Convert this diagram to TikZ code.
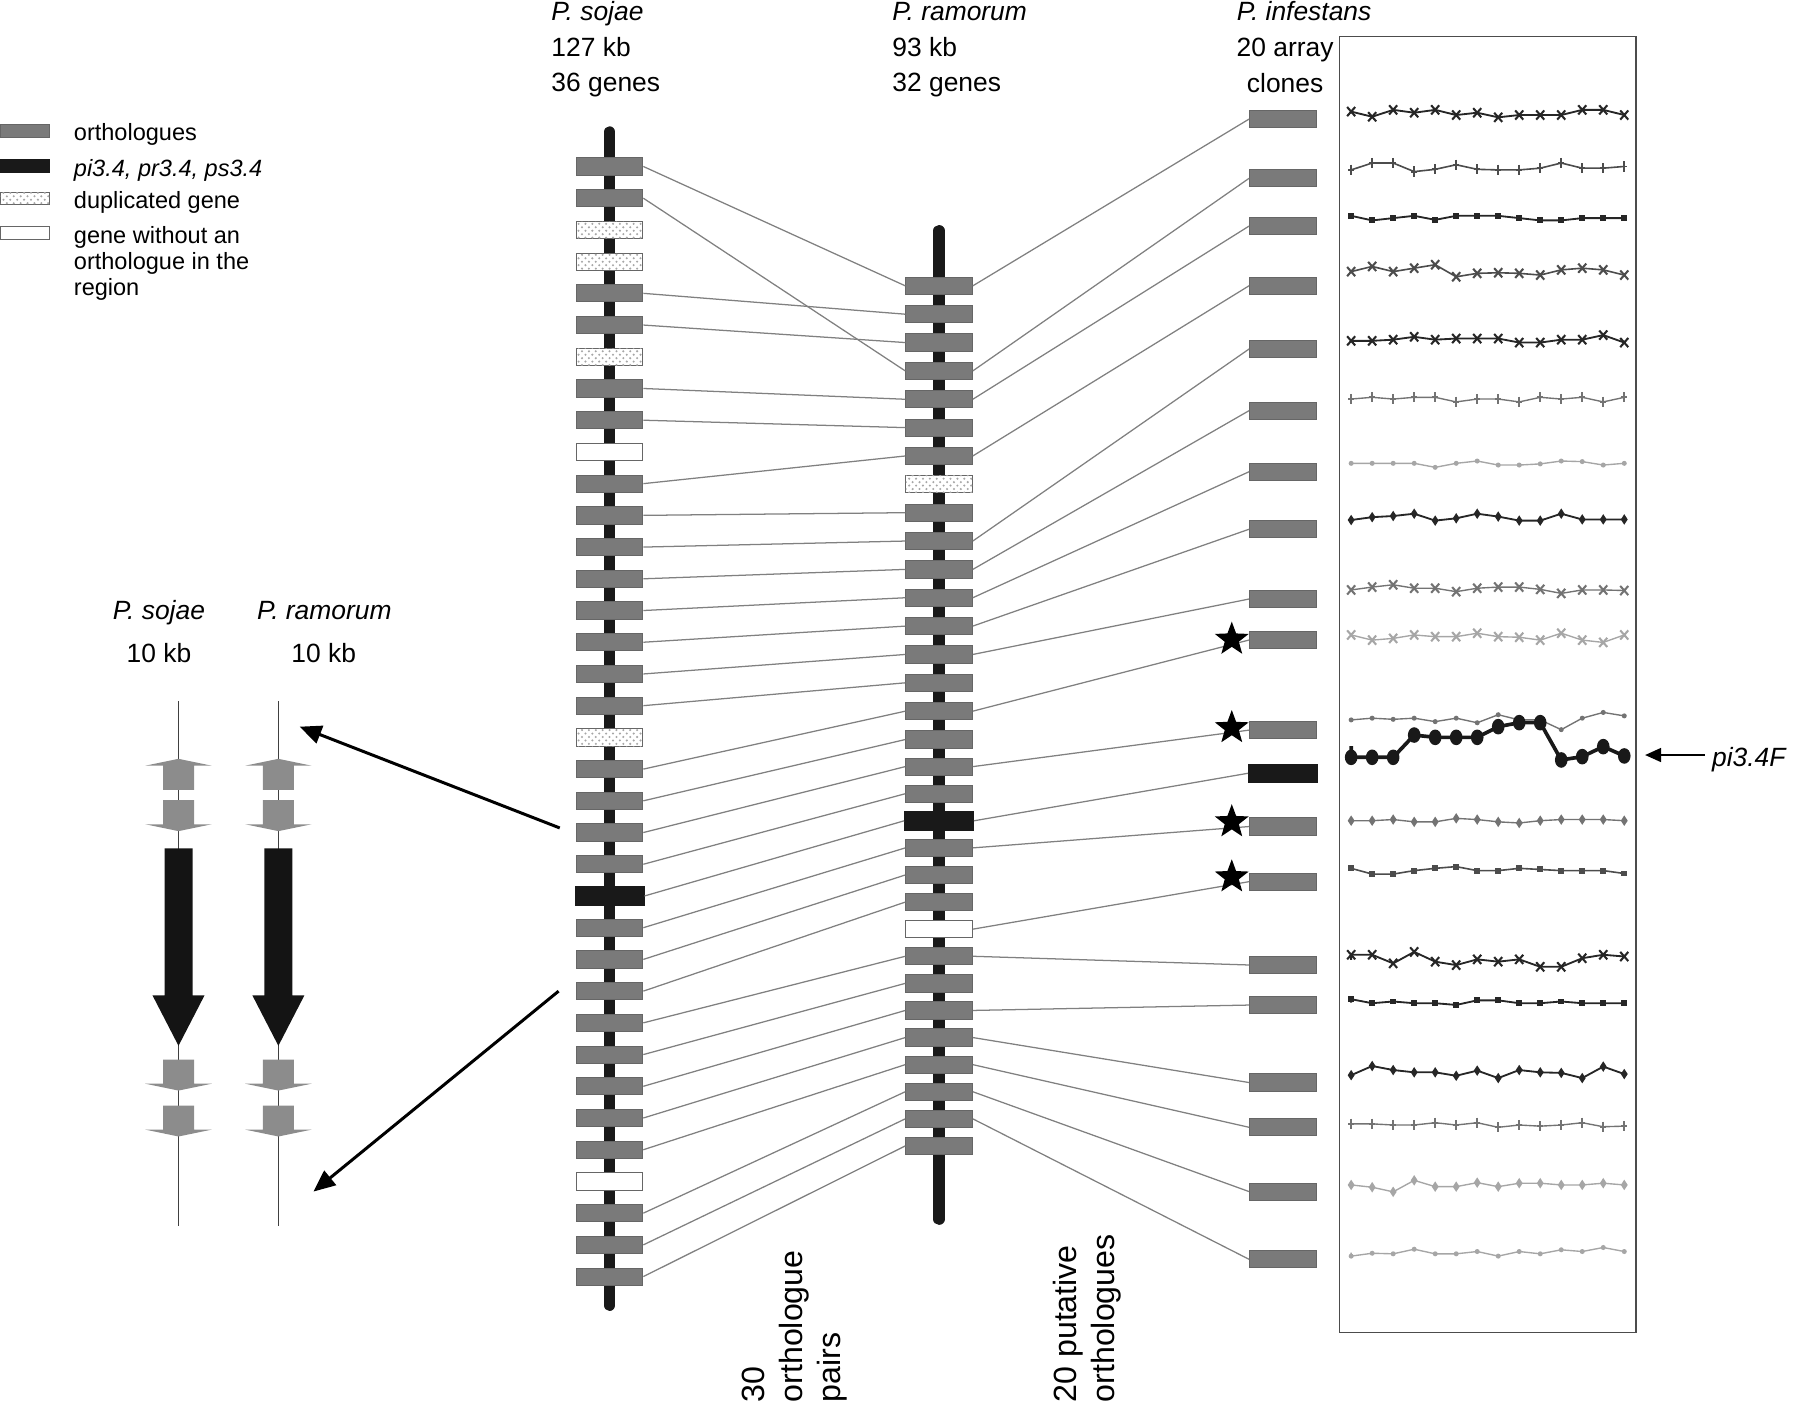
\documentclass[tikz,border=0pt]{standalone}
\usepackage{fontspec}
\setmainfont{Liberation Sans}
\usetikzlibrary{arrows.meta,shapes.geometric,patterns,calc}

\tikzset{
  chrom/.style={line width=5pt, line cap=round, black!90},
  gene/.style={rectangle, inner sep=0pt, minimum width=29pt, minimum height=7.5pt, draw=black!60, line width=0.4pt},
  geneo/.style={gene, fill=black!52},
  geneb/.style={gene, fill=black!90, draw=black!90, minimum width=30pt, minimum height=8pt},
  gened/.style={gene, fill=white, postaction={pattern=crosshatch dots, pattern color=black!35}},
  genew/.style={gene, fill=white},
  legbox/.style={minimum width=21.5pt, minimum height=5.5pt},
  orthlink/.style={black!50, line width=0.55pt},
  zoomarrow/.style={line width=1.3pt, -{Triangle[length=9.5pt,width=8pt]}},
  toplabel/.style={inner sep=0pt, align=left, font=\fontsize{11.5}{15.5}\selectfont},
  legtext/.style={inner sep=0pt, align=left, anchor=base west, font=\fontsize{10.25}{11.3}\selectfont},
  sidelabel/.style={inner sep=0pt, align=left, rotate=90, anchor=north west, font=\fontsize{14}{16.5}\selectfont},
  hit/.style={star, star points=5, star point ratio=2.4, fill=black, inner sep=0pt, minimum size=15.5pt},
  inkdeep/.style={color=black!85, line width=0.8pt},
  inkdark/.style={color=black!70, line width=0.7pt},
  inkmid/.style={color=black!55, line width=0.6pt},
  inklight/.style={color=black!35, line width=0.6pt},
  inkbold/.style={color=black!90, line width=1.6pt},
  xmk/.pic={\draw[line width=0.9pt] (-3.5,-4) -- (3.5,4) (-3.5,4) -- (3.5,-4);},
  plmk/.pic={\draw[line width=0.8pt] (0,-4.5) -- (0,4.5) (-2.5,0) -- (2.5,0);},
  sqmk/.pic={\fill (-2.6,-2.6) rectangle (2.6,2.6);},
  dmk/.pic={\fill (0,-4.6) -- (3,0) -- (0,4.6) -- (-3,0) -- cycle;},
  dotmk/.pic={\fill (0,0) circle (2.2);},
  ballmk/.pic={\fill (0,0) ellipse [x radius=5.5, y radius=6.8];},
  downgene/.pic={\fill[black!45] (-13.5,0) -- (13.5,0) -- (13.5,21) -- (29,21) -- (0,27) -- (-29,21) -- (-13.5,21) -- cycle;},
  upgene/.pic={\fill[black!45] (-13.5,0) -- (13.5,0) -- (13.5,-21) -- (29,-21) -- (0,-27) -- (-29,-21) -- (-13.5,-21) -- cycle;},
  bigarrow/.pic={\fill[black!92] (-12.2,0) -- (12.2,0) -- (12.2,128) -- (22.7,128) -- (0,172) -- (-22.7,128) -- (-12.2,128) -- cycle;}
}

% one expression profile: base y, mark, ink, offsets
\newcommand\exprow[4]{%
  \draw[#3] (1177,#1) foreach \d [count=\i from 0] in {#4} { -- ({1177+18.3*\i},{#1+(\d)}) };
  \foreach \d [count=\i from 0] in {#4} \pic[#3] at ({1177+18.3*\i},{#1+(\d)}) {#2};
}

\begin{document}
\begin{tikzpicture}[x=0.5pt, y=-0.5pt]
\useasboundingbox (0,0) rectangle (1568,1227);

% chromosomes
\coordinate (sjtop) at (531,115);
\coordinate (sjbot) at (531,1137);
\coordinate (rmtop) at (818,201);
\coordinate (rmbot) at (818,1062);
\draw[chrom] (sjtop) -- (sjbot);
\draw[chrom] (rmtop) -- (rmbot);

% P. sojae genes
\foreach \t [count=\i] in {o,o,d,d,o,o,d,o,o,w, o,o,o,o,o,o,o,o,d,o, o,o,o,b,o,o,o,o,o,o, o,o,w,o,o,o}
  \node[gene\t] (s\i) at (531,{145+27.63*(\i-1)}) {};

% P. ramorum genes
\foreach \t [count=\i] in {o,o,o,o,o,o,o,d,o,o, o,o,o,o,o,o,o,o,o,b, o,o,o,w,o,o,o,o,o,o, o,o} {
  \pgfmathsetmacro\ry{\i<18 ? 249+24.7*(\i-1) : 644.2+23.6*(\i-17)}
  \node[gene\t] (r\i) at (818,\ry) {};
}

% P. infestans clones
\foreach \y/\t [count=\i] in {103.7/o,155.3/o,196.9/o,248.9/o,304/o,357.7/o,410.9/o,461/o,521.8/o,557.5/o,
    636/o,673.6/b,720/o,768/o,840.6/o,875.5/o,943/o,982/o,1038/o,1097/o}
  \node[gene\t] (i\i) at (1117.5,\y) {};

% orthologue pairs
\foreach \a/\b in {1/1,2/4,5/2,6/3,8/5,9/6,11/7,12/9,13/10,14/11,15/12,16/13,17/14,18/15,20/16,
    21/17,22/18,23/19,24/20,25/21,26/22,27/23,28/25,29/26,30/27,31/28,32/29,34/30,35/31,36/32}
  \draw[orthlink] (s\a.east) -- (r\b.west);

% putative orthologues
\foreach \a [count=\b] in {1,4,5,7,10,11,12,13,14,16,18,20,21,24,25,27,28,29,30,31}
  \draw[orthlink] (r\a.east) -- (i\b.west);

% stars
\node[hit] (star1) at (1073,557) {};
\node[hit] (star2) at (1073,634) {};
\node[hit] (star3) at (1073,716) {};
\node[hit] (star4) at (1073,764) {};

% legend
\node[geneo, legbox] (lego) at (22,114) {};
\node[geneb, legbox] (legb) at (22,144.5) {};
\node[gened, legbox] (legd) at (22,172.8) {};
\node[genew, legbox] (legw) at (22,203) {};
\node[legtext] (lgo) at (64,122) {orthologues};
\node[legtext] (lgb) at (64,154) {\textit{pi3.4, pr3.4, ps3.4}};
\node[legtext] (lgd) at (64,181.5) {duplicated gene};
\node[legtext] (lgw) at (64,257) {gene without an\\orthologue in the\\region};

% headings
\node[toplabel, anchor=base west] (sjhead) at (480,80) {\textit{P. sojae}\\127 kb\\36 genes};
\node[toplabel, anchor=base west] (rmhead) at (777,80) {\textit{P. ramorum}\\93 kb\\32 genes};
\node[toplabel, anchor=base west] (infhead) at (1077,18) {\textit{P. infestans}};
\node[toplabel, align=center, anchor=base] (infclones) at (1119.5,80.5) {20 array\\clones};

% bottom labels
\node[sidelabel] (pairlabel) at (646,1222) {30\\orthologue\\pairs};
\node[sidelabel] (putlabel) at (917,1222) {20 putative\\orthologues};

% expression panel
\draw[black!70, line width=0.6pt] (1167,32) rectangle (1425,1161);
\exprow{98.7}{xmk}{inkdeep}{-1.5,3,-3,-0.5,-3,1.5,-0.5,3.5,1.5,1.5,1.5,-3,-3,1.5}
\exprow{146}{plmk}{inkdark}{2,-4,-4,3.5,1.5,-2.5,1.5,2,2,0.5,-4,0.5,0.5,-1}
\exprow{190}{sqmk}{inkdeep}{-2,2,0,-2,1.5,-2,-2,-2,0,2,2,0,0,0}
\exprow{236.6}{xmk}{inkdark}{0,-4.5,0,-3,-6,4.5,1.5,1,1.5,3,-1.5,-3,-1.5,3}
\exprow{295.9}{xmk}{inkdeep}{1,1,0,-2.5,0,-1,-1,-1,2.5,2.5,0,0,-4,2.5}
\exprow{347.6}{plmk}{inkmid}{0,-1.5,0,-1.5,-1.5,2.5,0,0,2.5,-1.5,0,-1.5,2.5,-1.5}
\exprow{403.6}{dotmk}{inklight}{0,0,0,0,3.5,0,-2,1.5,1.5,0.5,-2,-1.5,1.5,0}
\exprow{451.5}{dmk}{inkdeep}{1.5,-1,-2,-4,2,0,-4,-1.5,2,2,-4,1,1,1}
\exprow{513.4}{xmk}{inkmid}{0.5,-2,-4,-1,-1,2,-1,-2,-2,0,3.5,0.5,0.5,1}
\exprow{554.6}{xmk}{inklight}{-1.5,3,1.5,-1.5,0,0,-3,0,0.5,3,-3,3,5,-1.5}
\exprow{626.6}{dotmk}{inkmid}{0.5,-1,0,-1,2,-1,3,-4,0.5,0.5,9,-1,-6,-3}
\exprow{650}{ballmk}{inkbold}{9.7,9.7,9.7,-9.7,-7.7,-7.7,-7.7,-17,-20.5,-20.5,12,9.1,0.4,8.5}
\exprow{714.9}{dmk}{inkmid}{0,0,-1,1,1,-2,-1,1,2,0,-1,-1,-1,0}
\exprow{758.4}{sqmk}{inkdark}{-2,3,3,0,-2,-3.5,0,0,-2,-1,0,0,0,2.5}
\exprow{836.2}{xmk}{inkdeep}{-4.5,-4.5,3,-7,1.5,4.5,-0.5,1.5,-0.5,6,6,-1.5,-4.5,-3}
\exprow{873.4}{sqmk}{inkdeep}{-3,0.5,-1,0.5,0.5,2,-2,-2,0.5,0.5,-1,0.5,0.5,0.5}
\exprow{934.1}{dmk}{inkdeep}{2.5,-5.5,-2,0,0,3,-1.5,5,-2,0,0.5,5,-5,1.5}
\exprow{980}{plmk}{inkmid}{-1,-1,0,0,-2,0,-2,2,0,1,0,-2,1.5,1}
\exprow{1032.2}{dmk}{inklight}{0,2,6,-4,1.5,1.5,-2,1.5,-1.5,-1.5,0,0,-1.5,0}
\exprow{1091.2}{dotmk}{inklight}{3,0.5,1,-3,1,1,-1,3,-1,1,-2.5,-1,-4.5,-1}

% pi3.4F pointer
\node[toplabel, anchor=base west] (pilabel) at (1491,668) {\textit{pi3.4F}};
\coordinate (pitip) at (1433,657.7);
\draw[line width=1pt, -{Triangle[length=7pt,width=6pt]}] ($(pilabel.west |- pitip)+(-6,0)$) -- (pitip);

% 10 kb close-up
\node[toplabel, anchor=base] (isjname) at (138.5,540) {\textit{P. sojae}};
\node[toplabel, anchor=base] (irmname) at (282.5,540) {\textit{P. ramorum}};
\node[toplabel, anchor=base] (isjkb) at (138.5,577) {10 kb};
\node[toplabel, anchor=base] (irmkb) at (282,577) {10 kb};
\foreach \cx/\nm in {155.5/isj,242.5/irm} {
  \coordinate (\nm top) at (\cx,611);
  \coordinate (\nm bot) at (\cx,1068);
  \draw[black!75, line width=0.6pt] (\nm top) -- (\nm bot);
  \pic at (\cx,688) {upgene};
  \pic at (\cx,697) {downgene};
  \pic at (\cx,739) {bigarrow};
  \pic at (\cx,923) {downgene};
  \pic at (\cx,963) {downgene};
}
\coordinate (zoomto1) at (261,633);
\coordinate (zoomto2) at (273,1038);
\draw[zoomarrow] ($(s22.west)+(-14,-4)$) -- (zoomto1);
\draw[zoomarrow] ($(s27.west)+(-15,0)$) -- (zoomto2);
\end{tikzpicture}
\end{document}
